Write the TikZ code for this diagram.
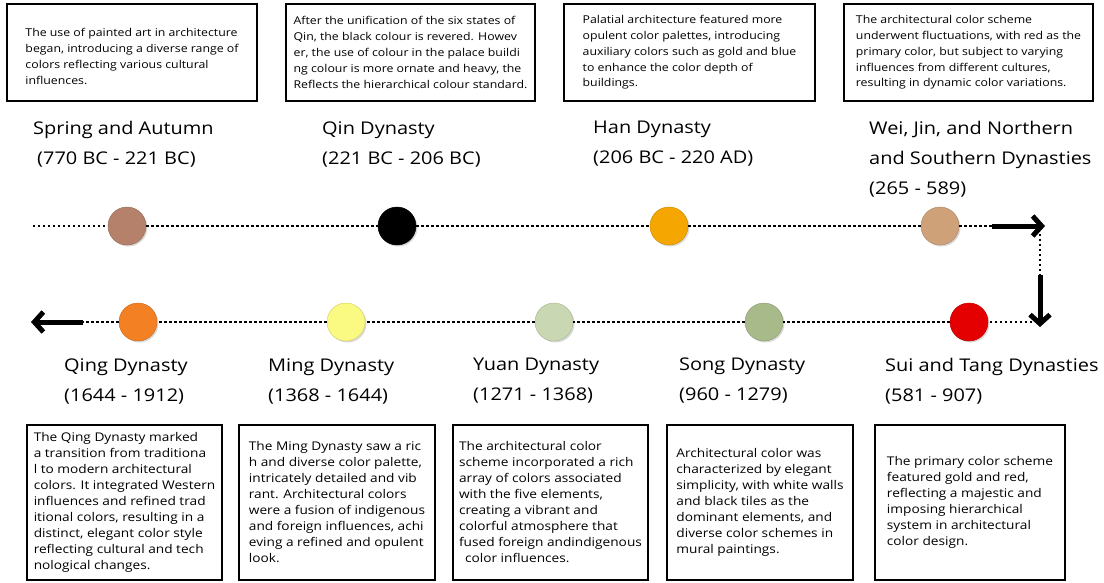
\documentclass[tikz,border=0pt]{standalone}
\usepackage{fontspec}
\setmainfont{Open Sans}[FakeStretch=1.14]
\usetikzlibrary{arrows.meta, shadows}

\definecolor{springcol}{RGB}{181,129,106}
\definecolor{hancol}{RGB}{245,166,0}
\definecolor{weicol}{RGB}{207,161,121}
\definecolor{suicol}{RGB}{228,0,0}
\definecolor{songcol}{RGB}{168,186,138}
\definecolor{yuancol}{RGB}{201,216,178}
\definecolor{mingcol}{RGB}{250,249,130}
\definecolor{qingcol}{RGB}{244,128,36}

\begin{document}
\begin{tikzpicture}[x=1pt, y=-1pt,
    period/.style={circle, minimum size=38pt, inner sep=0pt, fill=#1, draw=#1!85!black, line width=0.5pt,
        drop shadow={shadow xshift=1.5pt, shadow yshift=-1.5pt, opacity=0.3}},
    note/.style={draw, line width=1.4pt, inner sep=0pt, align=left, font=\fontsize{10.8}{15.8}\selectfont},
    big note/.style={note, font=\fontsize{12}{16}\selectfont, minimum height=155pt},
    era/.style={anchor=north west, align=left, inner sep=0pt, font=\fontsize{17.5}{30}\selectfont},
    timeline/.style={line width=2.4pt, dash pattern=on 2.4pt off 2.6pt},
    bold arrow/.style={line width=5pt, -{Straight Barb[length=9pt,width=20pt]}}]
    \useasboundingbox (0,0) rectangle (1104,582);

    % top row
    \node[note, minimum width=250pt, minimum height=97pt](spring_txt)   at (132,52.5) {\rule{0pt}{16pt}The use of painted art in architecture\\began, introducing a diverse range of\\colors reflecting various cultural\\influences.};
    \node[note, minimum width=249pt, minimum height=97pt](qin_txt)      at (410.5,52.5) {After the unification of the six states of\\Qin, the black colour is revered. Howev\\er, the use of colour in the palace buildi\\ng colour is more ornate and heavy, the\\ Reflects the hierarchical colour standard.};
    \node[note, minimum width=251pt, minimum height=97pt](han_txt)      at (689.5,52.5) {Palatial architecture featured more\\opulent color palettes, introducing\\auxiliary colors such as gold and blue\\to enhance the color depth of\\buildings.};
    \node[note, minimum width=249pt, minimum height=97pt](wei_txt)      at (968.5,52.5) {The architectural color scheme\\underwent fluctuations, with red as the\\primary color, but subject to varying\\influences from different cultures,\\resulting in dynamic color variations.};

    \node[era](spring_lbl)      at (33,121) {Spring and Autumn\\\hspace*{4pt}(770 BC - 221 BC)};
    \node[era](qin_lbl)         at (322,121) {Qin Dynasty\\(221 BC - 206 BC)};
    \node[era](han_lbl)         at (593,121) {Han Dynasty\\(206 BC - 220 AD)};
    \node[era](wei_lbl)         at (869,121) {Wei, Jin, and Northern\\and Southern Dynasties\\(265 - 589)};

    \coordinate (top_start)     at (33,226);
    \coordinate (top_bar)       at (992,226);
    \coordinate (top_tip)       at (1045,226);
    \coordinate (turn)          at (1040,234);
    \coordinate (down_bar)      at (1040,275);
    \coordinate (down_tip)      at (1040,327);
    \coordinate (bot_start)     at (1032,322);
    \coordinate (left_bar)      at (83,322);
    \coordinate (left_tip)      at (31,322);

    \node[period=springcol](spring) at (127,226) {};
    \node[period=black](qin)        at (397,226) {};
    \node[period=hancol](han)       at (669,226) {};
    \node[period=weicol](wei)       at (940,226) {};
    \node[period=suicol](sui)       at (969,322) {};
    \node[period=songcol](song)     at (764,322) {};
    \node[period=yuancol](yuan)     at (554,322) {};
    \node[period=mingcol](ming)     at (346,322) {};
    \node[period=qingcol](qing)     at (138,322) {};

    \draw[timeline] (top_start) -- (spring) -- (qin) -- (han) -- (wei) -- (top_bar);
    \draw[timeline] (turn) -- (down_bar);
    \draw[timeline] (bot_start) -- (sui) -- (song) -- (yuan) -- (ming) -- (qing) -- (left_bar);
    \draw[bold arrow] (top_bar) -- (top_tip);
    \draw[bold arrow] (down_bar) -- (down_tip);
    \draw[bold arrow] (left_bar) -- (left_tip);

    % bottom row
    \node[era](sui_lbl)         at (885,358) {Sui and Tang Dynasties\\(581 - 907)};
    \node[era](song_lbl)        at (679,358) {Song Dynasty\\(960 - 1279)};
    \node[era](yuan_lbl)        at (473,358) {Yuan Dynasty\\(1271 - 1368)};
    \node[era](ming_lbl)        at (268,358) {Ming Dynasty\\(1368 - 1644)};
    \node[era](qing_lbl)        at (64,358) {Qing Dynasty\\(1644 - 1912)};

    \node[big note, minimum width=190pt](sui_txt)     at (970,502.5) {The primary color scheme\\featured gold and red,\\reflecting a majestic and\\imposing hierarchical\\system in architectural\\color design.};
    \node[big note, minimum width=186pt](song_txt)    at (760,502.5) {Architectural color was\\characterized by elegant\\simplicity, with white walls\\and black tiles as the\\dominant elements, and\\diverse color schemes in\\mural paintings.};
    \node[big note, minimum width=195pt](yuan_txt)    at (550.5,502.5) {The architectural color\\scheme incorporated a rich\\array of colors associated\\with the five elements,\\creating a vibrant and\\colorful atmosphere that\\fused foreign andindigenous\\\hspace*{6pt}color influences.};
    \node[big note, minimum width=196pt](ming_txt)    at (337,502.5) {The Ming Dynasty saw a ric\\h and diverse color palette,\\intricately detailed and vib\\rant. Architectural colors\\were a fusion of indigenous\\and foreign influences, achi\\eving a refined and opulent\\look.};
    \node[big note, minimum width=195pt](qing_txt)    at (124.5,502.5) {The Qing Dynasty marked\\a transition from traditiona\\l to modern architectural\\colors. It integrated Western\\influences and refined trad\\itional colors, resulting in a\\distinct, elegant color style\\reflecting cultural and tech\\nological changes.};
\end{tikzpicture}
\end{document}
